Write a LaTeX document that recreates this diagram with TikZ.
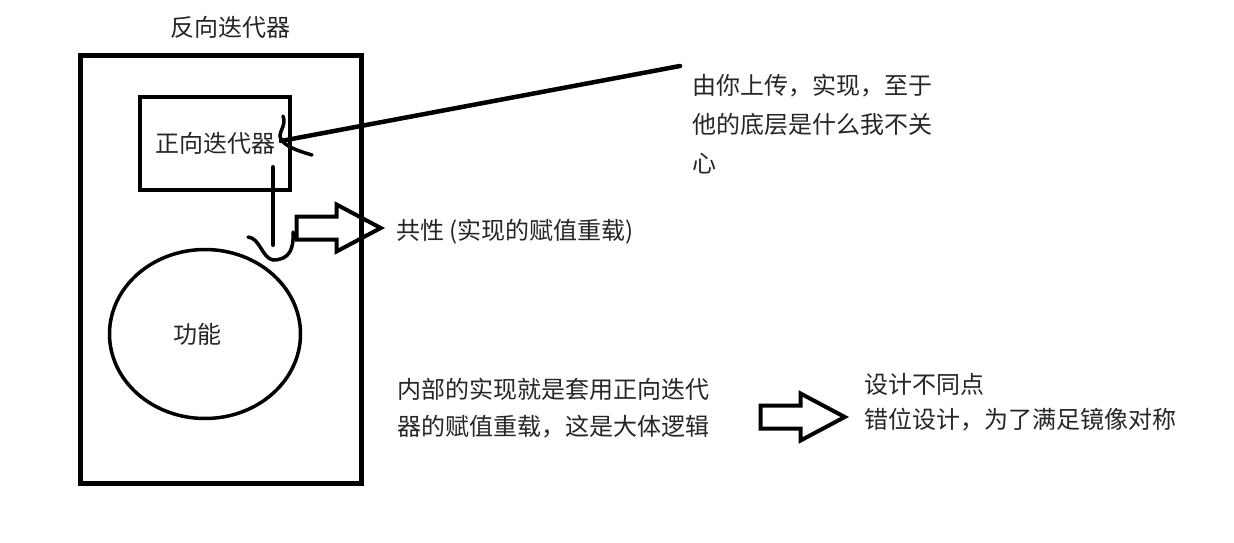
\documentclass[tikz,border=0pt]{standalone}
\usepackage{fontspec}
\setmainfont{Noto Sans CJK SC}
\usetikzlibrary{shapes.geometric,shapes.arrows,positioning}

\begin{document}
\begin{tikzpicture}[
    x=1pt, y=-1pt,
    font=\fontsize{24}{38}\selectfont, text=black!85,
    frame/.style={draw, line width=5pt},
    txt/.style={inner sep=0, anchor=west, align=left},
    hollow/.style={single arrow, draw, line width=4pt, inner xsep=0, inner ysep=9.5pt, minimum height=84pt,
        single arrow head extend=12pt, single arrow tip angle=56, anchor=tip},
    pen/.style={line width=4.5pt, line cap=round, line join=round},
    scrawl/.style={line width=3.5pt, line cap=round, line join=round}
]
\useasboundingbox[fill=white] (0,0) rectangle (1234,543);

\node[inner sep=0] (title) at (230,27) {反向迭代器};
\node[frame, minimum width=281pt, minimum height=427pt] (outer) at (220.5,269.5) {};
\node[frame, line width=4.5pt, minimum width=150pt, minimum height=93pt] (fwd) at (215,143.5) {正向迭代器};
\node[draw, ellipse, line width=3.5pt, minimum width=191pt, minimum height=169pt] (func) at (205,334) {};
\node[inner sep=0] (functxt) at (197,334) {功能};

\node[hollow] (share) at (385,228) {};
\node[txt] (common) at (396,232) {共性 (实现的赋值重载)};

\node[txt, font=\fontsize{24}{39}\selectfont] (note) at (692,124) {由你上传，实现，至于\\他的底层是什么我不关\\心};
\node[txt, font=\fontsize{24}{37}\selectfont] (inner) at (397,408.5) {内部的实现就是套用正向迭代\\器的赋值重载，这是大体逻辑};
\node[hollow] (split) at (849,417) {};
\node[txt, font=\fontsize{24}{35}\selectfont] (diff) at (864,402.5) {设计不同点\\错位设计，为了满足镜像对称};

\coordinate (tail) at (680,66);
\coordinate (hook) at (281,141);
\draw[pen] (tail) -- (hook);
\draw[scrawl] (283,116) .. controls (287,126) and (277,133) .. (281,139)
    .. controls (285,146) and (295,150) .. (312,155);

\coordinate (drop) at (273,167);
\coordinate (cup) at (273,245);
\draw[pen, line width=4pt] (drop) -- (cup);
\draw[scrawl] (248,237) .. controls (260,238) and (262,258) .. (273,260)
    .. controls (290,260) and (294,248) .. (293,232);
\end{tikzpicture}
\end{document}
